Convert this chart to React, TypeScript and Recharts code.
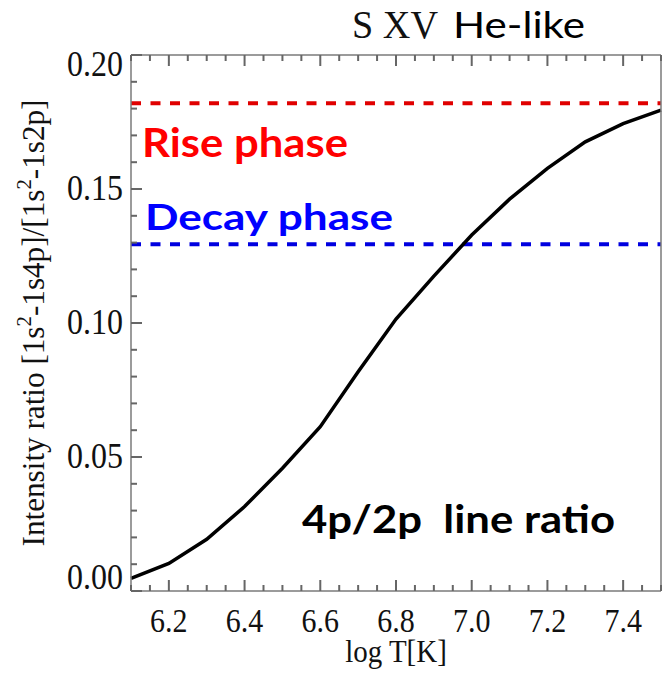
import { LineChart, Line, XAxis, YAxis, ReferenceLine } from "recharts";

const logT = [6.1, 6.2, 6.3, 6.4, 6.5, 6.6, 6.7, 6.8, 6.9, 7.0, 7.1, 7.2, 7.3, 7.4, 7.5];
const ratio4p2p = [0.0047, 0.0103, 0.0193, 0.0315, 0.0458, 0.0613, 0.0818, 0.1015, 0.1175, 0.1328, 0.1462, 0.1577, 0.1676, 0.1744, 0.1794];

const riseLevel = 0.182;
const decayLevel = 0.1294;

const xTicks = [6.1, 6.15, 6.2, 6.25, 6.3, 6.35, 6.4, 6.45, 6.5, 6.55, 6.6, 6.65, 6.7, 6.75, 6.8, 6.85, 6.9, 6.95, 7.0, 7.05, 7.1, 7.15, 7.2, 7.25, 7.3, 7.35, 7.4, 7.45, 7.5];
const xLabels = ["6.2", "6.4", "6.6", "6.8", "7.0", "7.2", "7.4"];
const yTicks = [0, 0.01, 0.02, 0.03, 0.04, 0.05, 0.06, 0.07, 0.08, 0.09, 0.1, 0.11, 0.12, 0.13, 0.14, 0.15, 0.16, 0.17, 0.18, 0.19, 0.2];
const yLabels = ["0.00", "0.05", "0.10", "0.15", "0.20"];

const X_DOMAIN = [6.1, 7.5];
const Y_DOMAIN = [0, 0.2];

const data = logT.map((t, i) => ({ logT: t, ratio: ratio4p2p[i] }));

const AXIS = "#7a7a7a";
const TICK = "#666";
const SERIF = "'Liberation Serif', 'DejaVu Serif', serif";
const SANS = "Lato, 'Open Sans', sans-serif";

const isXMajor = (v: number) => Math.abs(v * 5 - Math.round(v * 5)) < 1e-6;
const isYMajor = (v: number) => Math.abs(v * 20 - Math.round(v * 20)) < 1e-6;

// tick labels in the original are a tall, slightly stretched serif
const StretchText = ({ x, y, anchor, size, children }: any) => (
    <text transform={`translate(${x}, ${y}) scale(1, 1.12)`} x={0} y={0} textAnchor={anchor} fontFamily={SERIF} fontSize={size} fill="#111">
        {children}
    </text>
);

// inward tick marks drawn as small rects so they cannot collapse to nothing
const BottomTick = (props: any) => {
    const x = Number(props.x);
    const y = Number(props.y);
    const v = props.payload.value;
    const len = isXMajor(v) ? 11 : 6;
    const label = xLabels.find((l) => Math.abs(parseFloat(l) - v) < 1e-6);
    return (
        <g>
            <rect x={x - 1} y={y - len} width={2} height={len} fill={TICK} />
            {label && (
                <StretchText x={x} y={y + 41} anchor="middle" size={30}>
                    {label}
                </StretchText>
            )}
        </g>
    );
};

const TopTick = (props: any) => {
    const x = Number(props.x);
    const y = Number(props.y);
    const len = isXMajor(props.payload.value) ? 11 : 6;
    return <rect x={x - 1} y={y} width={2} height={len} fill={TICK} />;
};

const LeftTick = (props: any) => {
    const x = Number(props.x);
    const y = Number(props.y);
    const v = props.payload.value;
    const len = isYMajor(v) ? 11 : 6;
    const label = yLabels.find((l) => Math.abs(parseFloat(l) - v) < 1e-6);
    // edge labels are nudged inward like the original plot
    const shift = v < 0.001 ? -13 : v > 0.199 ? 10 : 0;
    return (
        <g>
            <rect x={x} y={y - 1} width={len} height={2} fill={TICK} />
            {label && (
                <StretchText x={x - 8} y={y + shift + 11} anchor="end" size={32}>
                    {label}
                </StretchText>
            )}
        </g>
    );
};

const RightTick = (props: any) => {
    const x = Number(props.x);
    const y = Number(props.y);
    const len = isYMajor(props.payload.value) ? 11 : 6;
    return <rect x={x - len} y={y - 1} width={len} height={2} fill={TICK} />;
};

const XTitle = ({ viewBox }: any) => (
    <StretchText x={viewBox.x + viewBox.width / 2} y={viewBox.y + 71} anchor="middle" size={29}>
        log T[K]
    </StretchText>
);

const YTitle = () => (
    <text
        x={0}
        y={0}
        transform="translate(44, 323) rotate(-90) scale(1, 1.08)"
        textAnchor="middle"
        fontFamily={SERIF}
        fontSize={30}
        fill="#111"
        textLength={447}
        lengthAdjust="spacingAndGlyphs"
    >
        Intensity ratio [1s<tspan dy={-12} fontSize={20}>2</tspan>
        <tspan dy={12}>-1s4p]/[1s</tspan>
        <tspan dy={-12} fontSize={20}>2</tspan>
        <tspan dy={12}>-1s2p]</tspan>
    </text>
);

const RiseLabel = ({ viewBox }: any) => (
    <text x={viewBox.x + 11} y={viewBox.y + 54} fontFamily={SANS} fontWeight={700} fontSize={40} fill="#ff0000" textLength={206} lengthAdjust="spacingAndGlyphs">
        Rise phase
    </text>
);

const DecayLabel = ({ viewBox }: any) => (
    <text x={viewBox.x + 14} y={viewBox.y - 14} fontFamily={SANS} fontWeight={700} fontSize={36} fill="#0000ff" textLength={248} lengthAdjust="spacingAndGlyphs">
        Decay phase
    </text>
);

export default function App() {
    return (
        <div style={{ position: "absolute", left: 0, top: 0, width: 665, height: 673, background: "#fff" }}>
            <LineChart width={665} height={673} data={data} margin={{ top: 54, right: 3, bottom: 0, left: 0 }}>
                <XAxis
                    dataKey="logT"
                    type="number"
                    domain={X_DOMAIN}
                    ticks={xTicks}
                    interval={0}
                    height={82}
                    tickSize={0}
                    tickMargin={0}
                    tickLine={false}
                    axisLine={{ stroke: AXIS, strokeWidth: 1.5 }}
                    tick={BottomTick}
                    label={<XTitle />}
                />
                <XAxis
                    xAxisId="top"
                    orientation="top"
                    dataKey="logT"
                    type="number"
                    domain={X_DOMAIN}
                    ticks={xTicks}
                    interval={0}
                    height={1}
                    tickSize={0}
                    tickMargin={0}
                    tickLine={false}
                    axisLine={{ stroke: AXIS, strokeWidth: 1.5 }}
                    tick={TopTick}
                />
                <YAxis
                    type="number"
                    domain={Y_DOMAIN}
                    ticks={yTicks}
                    interval={0}
                    width={131}
                    tickSize={0}
                    tickMargin={0}
                    tickLine={false}
                    axisLine={{ stroke: AXIS, strokeWidth: 1.5 }}
                    tick={LeftTick}
                    label={<YTitle />}
                />
                <YAxis
                    yAxisId="right"
                    orientation="right"
                    type="number"
                    domain={Y_DOMAIN}
                    ticks={yTicks}
                    interval={0}
                    width={1}
                    tickSize={0}
                    tickMargin={0}
                    tickLine={false}
                    axisLine={{ stroke: AXIS, strokeWidth: 1.5 }}
                    tick={RightTick}
                />
                <ReferenceLine y={riseLevel} stroke="#e00000" strokeWidth={4} strokeDasharray="10 9.5" label={<RiseLabel />} />
                <ReferenceLine y={decayLevel} stroke="#0000e0" strokeWidth={4} strokeDasharray="10 9.5" label={<DecayLabel />} />
                <Line type="linear" dataKey="ratio" stroke="#000" strokeWidth={3.5} dot={false} isAnimationActive={false} />
            </LineChart>
            <svg width={665} height={673} style={{ position: "absolute", left: 0, top: 0, pointerEvents: "none" }}>
                <text x={352} y={38} fontFamily={SERIF} fontSize={39} fill="#111" textLength={86} lengthAdjust="spacingAndGlyphs">
                    S XV
                </text>
                <text x={453} y={38} fontFamily={SANS} fontSize={37} fill="#000" textLength={132} lengthAdjust="spacingAndGlyphs">
                    He-like
                </text>
                <text x={302} y={533} fontFamily={SANS} fontWeight={700} fontSize={39} fill="#000" textLength={313} lengthAdjust="spacingAndGlyphs" style={{ whiteSpace: "pre" }}>
                    4p/2p  line ratio
                </text>
            </svg>
        </div>
    );
}
